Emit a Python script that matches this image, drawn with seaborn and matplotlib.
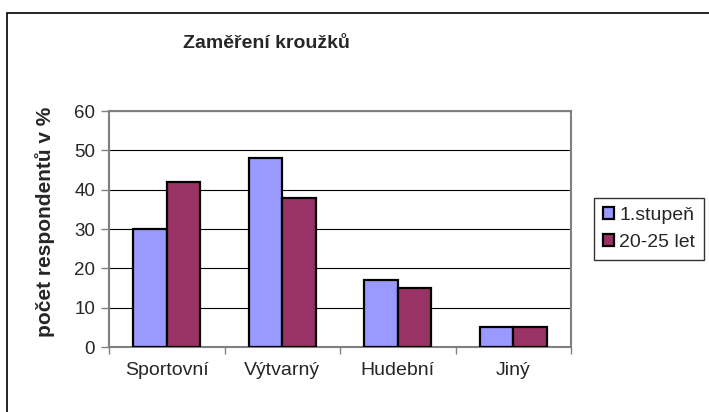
import numpy as np
import pandas as pd
import matplotlib
matplotlib.use("Agg")
import matplotlib.pyplot as plt
import seaborn as sns
from matplotlib.patches import Rectangle

# data
categories = ["Sportovní", "Výtvarný", "Hudební", "Jiný"]
series_names = ["1.stupeň", "20-25 let"]
vals_stupen = [30, 48, 17, 5]
vals_let = [42, 38, 15, 5]
yticks = [0, 10, 20, 30, 40, 50, 60]

df = pd.DataFrame({
    "kategorie": categories * 2,
    "skupina": [series_names[0]] * 4 + [series_names[1]] * 4,
    "hodnota": vals_stupen + vals_let,
})

sns.set_style("white")
plt.rcParams['font.family'] = ['Liberation Sans', 'DejaVu Sans']

W, H = 709, 412
fig = plt.figure(figsize=(W / 100, H / 100), dpi=100)
ax = fig.add_axes([109 / W, (H - 347) / H, 462 / W, 236 / H])

sns.barplot(data=df, x="kategorie", y="hodnota", hue="skupina",
            palette=["#9999FF", "#993366"], saturation=1, width=0.58,
            edgecolor="black", linewidth=1.6, ax=ax, zorder=3)

ax.set_ylim(0, 60)
ax.set_xlim(-0.5, 3.5)
ax.set_yticks(yticks)
ax.yaxis.grid(True, color="black", linewidth=0.8, zorder=0)
ax.set_axisbelow(True)
ax.tick_params(axis="y", labelsize=13.5, length=6, color="#808080", width=1, left=True, pad=4)
ax.tick_params(axis="x", which="major", labelsize=14, length=0, pad=11)
ax.set_xticks(np.arange(-0.5, 4, 1), minor=True)
ax.tick_params(axis="x", which="minor", length=5, color="#808080", width=1, bottom=True)
for s in ax.spines.values():
    s.set_color("#808080")
    s.set_linewidth(1.5)
ax.set_xlabel("")
ax.set_ylabel("počet respondentů v %", fontsize=15, fontweight="bold")
ax.yaxis.set_label_coords((55 - 109) / 462, (347 - 222) / 236)

fig.text(266 / W, 1 - 44 / H, "Zaměření kroužků", ha="center", va="center",
         fontsize=14, fontweight="bold")

leg = ax.legend(loc="center left", bbox_to_anchor=(594 / W, 1 - 229 / H),
                bbox_transform=fig.transFigure, fontsize=14, frameon=True,
                fancybox=False, edgecolor="black", handlelength=0.6,
                handleheight=0.6, handletextpad=0.25, borderpad=0.45,
                labelspacing=0.5, borderaxespad=0)
leg.get_frame().set_linewidth(1)

# outer chart border
fig.patches.append(Rectangle((7 / W, -0.05), 1.1, 1 - 13 / H + 0.05,
                             transform=fig.transFigure, fill=False,
                             edgecolor="black", linewidth=1.2))

fig.savefig("out.png", dpi=100)
